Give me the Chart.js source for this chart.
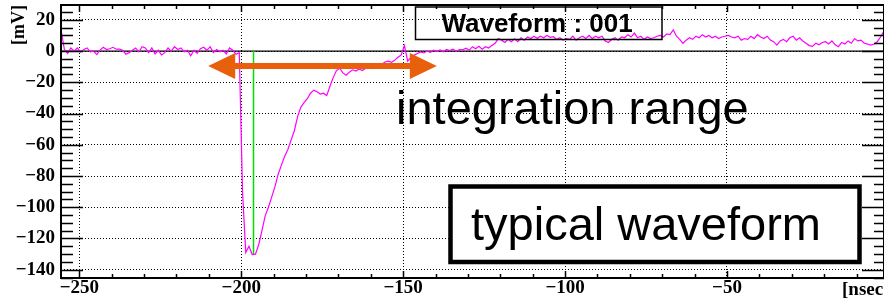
<!DOCTYPE html>
<html>
<head>
<meta charset="utf-8">
<script src="https://cdn.jsdelivr.net/npm/chart.js@4.4.0/dist/chart.umd.min.js"></script>
<style>
  html, body { margin: 0; padding: 0; background: #fff; }
</style>
</head>
<body>
<canvas id="grafico" width="884" height="302"></canvas>
<script>
// amostras do waveform, 1 ns entre elas
const tempoInicial = -255.6;
const passoNs = 1;
const tensaoMv = [
  13, 1, -1.5, 2, 0, 2, -0.5, 1, 2, -0.5,
  0, -2.3, 0.6, 2.4, 1, 1.5, 2.4, 1.2, 1.2, 0.5,
  -2, -1, 0.5, 2, -0.5, 2.8, 2, -1, 2, -1.8,
  0.5, -2.5, -1, 2, 0, 2.8, 1, 2, -0.5, 0.5,
  -3, 0.5, -1.5, 1.5, 2.4, 0.5, 2.8, -1, 1, -0.5,
  0.5, -1.8, 2, 0.5, -2, -1, -90, -129, -125, -130.3,
  -130, -124, -115, -105.5, -100, -93.5, -87, -79, -73, -67.5,
  -63, -57, -51, -42, -36, -33, -30.5, -27, -25, -26,
  -27.5, -27, -28.5, -22.5, -17, -12.5, -11, -14, -15.5, -13.5,
  -12, -12.8, -11.5, -12.5, -11, -10.5, -11.2, -9.5, -8, -8.5,
  -7, -6.5, -7.2, -5.8, -4, -2.5, 3.5, -6.5, -4, -2.6,
  -1.5, -0.5, -1.2, 0, -0.8, 0.5, -0.3, 0.8, -0.5, 1,
  0.3, 1.2, -0.2, 1, 0.8, 1.8, 0.5, 2.8, 1.5, 3,
  1.2, 2.8, 2, 3.5, 5, 8, 7, 5.5, 7.5, 6,
  7.8, 6, 8.5, 7, 9, 8, 9.5, 8.2, 9.5, 8.5,
  10, 8.8, 9.2, 7.5, 8.5, 7, 8, 7.5, 9.5, 7,
  8.5, 9.5, 8, 10, 8, 9.5, 8.5, 9.5, 6.5, 5.5,
  7.5, 8.5, 7, 9, 8.5, 10.5, 9, 11.5, 8.5, 9.5,
  7.5, 9, 8, 8.5, 9.5, 10, 9, 11, 10.5, 13.5,
  9.5, 7.5, 5, 7, 8.5, 7.5, 9.5, 8.5, 10.5, 9,
  10, 8.5, 9.5, 8, 9, 9.5, 10, 9, 8.5, 9.5,
  7, 8, 7.5, 9.5, 8, 10.5, 9, 8, 9.5, 7,
  6, 3.8, 6.5, 7.5, 6, 8.5, 9.5, 7, 8.5, 6.5,
  5, 3.5, 3, 5, 4, 5.5, 6, 4.5, 6.5, 4,
  2.8, 5.5, 4.5, 6.5, 5, 8, 6.5, 7, 5, 4.5,
  3.8, 4.5, 6, 9, 12.5
];

// linha verde no pico
const picoTempo = [-196.2, -196.2];
const picoTensao = [0, -130];

// faixa de integracao (seta laranja), em ns e mV
const faixaTempo = [-210.2, -139.6];
const faixaTensao = -9.6;

const xLimites = [-255.65, -1.52];
const yLimites = [-145.3, 29.5];
const xTicks = [-250, -200, -150, -100, -50];
const yTicks = [-140, -120, -100, -80, -60, -40, -20, 0, 20];

const fonteEixo = { family: '"Liberation Serif", "Times New Roman", serif', size: 19, weight: 'bold', lineHeight: 1 };
const menos = v => String(v).replace('-', '\u2212');

const molduraPlugin = {
  id: 'moldura',
  afterDatasetsDraw(chart) {
    const { ctx, chartArea: a, scales: { x, y } } = chart;
    ctx.save();
    ctx.strokeStyle = '#000';
    ctx.lineWidth = 1.5;
    ctx.beginPath();
    for (let v = -145; v <= 25; v += 5) {
      const py = Math.round(y.getPixelForValue(v)) + 0.5;
      const maior = v % 20 === 0;
      ctx.moveTo(a.left, py);
      ctx.lineTo(a.left + (maior ? 22 : 12), py);
      ctx.moveTo(a.right, py);
      ctx.lineTo(a.right - (maior ? 22 : 10), py);
    }
    for (let v = -250; v <= -10; v += 10) {
      const px = Math.round(x.getPixelForValue(v)) + 0.5;
      const t = v % 50 === 0 ? 7 : 4;
      ctx.moveTo(px, a.bottom);
      ctx.lineTo(px, a.bottom - t);
      ctx.moveTo(px, a.top);
      ctx.lineTo(px, a.top + t);
    }
    ctx.stroke();
    ctx.lineWidth = 2;
    ctx.strokeRect(a.left, a.top, a.right - a.left, a.bottom - a.top);
    ctx.restore();
  }
};

function desenharSeta(ctx, x1, x2, yc) {
  const cab = 27, meia = 13, haste = 3;
  ctx.beginPath();
  ctx.moveTo(x1, yc);
  ctx.lineTo(x1 + cab, yc - meia);
  ctx.lineTo(x1 + cab, yc - haste);
  ctx.lineTo(x2 - cab, yc - haste);
  ctx.lineTo(x2 - cab, yc - meia);
  ctx.lineTo(x2, yc);
  ctx.lineTo(x2 - cab, yc + meia);
  ctx.lineTo(x2 - cab, yc + haste);
  ctx.lineTo(x1 + cab, yc + haste);
  ctx.lineTo(x1 + cab, yc + meia);
  ctx.closePath();
  ctx.fill();
}

const anotacoesPlugin = {
  id: 'anotacoes',
  afterDraw(chart) {
    const { ctx, scales: { x, y } } = chart;
    ctx.save();
    ctx.textBaseline = 'alphabetic';

    // caixa do titulo
    ctx.strokeStyle = '#000';
    ctx.lineWidth = 1.5;
    ctx.strokeRect(415.5, 7, 246.5, 32.5);
    ctx.fillStyle = '#000';
    ctx.font = 'bold 26px "Liberation Sans", Arial, sans-serif';
    ctx.fillText('Waveform : 001', 441.5, 31.5);

    // seta da faixa de integracao
    ctx.fillStyle = '#e8600c';
    desenharSeta(ctx, x.getPixelForValue(faixaTempo[0]), x.getPixelForValue(faixaTempo[1]), y.getPixelForValue(faixaTensao));

    ctx.fillStyle = '#000';
    ctx.font = '47px "Liberation Sans", Arial, sans-serif';
    ctx.fillText('integration range', 396, 123.5);

    // caixa "typical waveform"
    ctx.fillStyle = '#fff';
    ctx.fillRect(450.5, 186.5, 409, 75.5);
    ctx.lineWidth = 4.5;
    ctx.strokeRect(450.5, 186.5, 409, 75.5);
    ctx.fillStyle = '#000';
    ctx.fillText('typical waveform', 471, 240);

    ctx.font = 'bold 19px "Liberation Serif", "Times New Roman", serif';
    ctx.fillText('[nsec]', 842, 295);
    ctx.restore();
  }
};

function criarGrafico() {
  const ctx = document.getElementById('grafico').getContext('2d');
  const pontos = tensaoMv.map((v, i) => ({ x: tempoInicial + i * passoNs, y: v }));

  return new Chart(ctx, {
    type: 'line',
    data: {
      datasets: [
        {
          data: picoTempo.map((t, i) => ({ x: t, y: picoTensao[i] })),
          borderColor: '#00e000',
          borderWidth: 1.5,
          pointRadius: 0,
          order: 0
        },
        {
          data: pontos,
          borderColor: '#ff00ff',
          borderWidth: 1.2,
          pointRadius: 0,
          tension: 0,
          order: 1
        },
        {
          data: xLimites.map(t => ({ x: t, y: 0 })),
          borderColor: '#000',
          borderWidth: 1.3,
          pointRadius: 0,
          order: 2
        }
      ]
    },
    options: {
      responsive: false,
      animation: false,
      devicePixelRatio: 1,
      layout: { padding: { top: 5, left: 0, right: 0, bottom: 0 } },
      plugins: { legend: { display: false }, tooltip: { enabled: false } },
      scales: {
        x: {
          type: 'linear',
          min: xLimites[0],
          max: xLimites[1],
          afterBuildTicks: s => { s.ticks = xTicks.map(v => ({ value: v })); },
          afterFit: s => { s.height = 24; s.paddingLeft = 0; s.paddingRight = 0; },
          grid: { color: '#000', lineWidth: 1, drawTicks: false },
          border: { display: false, dash: [1, 2] },
          ticks: { font: fonteEixo, color: '#000', padding: 1, maxRotation: 0, autoSkip: false, callback: menos }
        },
        y: {
          type: 'linear',
          min: yLimites[0],
          max: yLimites[1],
          afterBuildTicks: s => { s.ticks = yTicks.map(v => ({ value: v })); },
          afterFit: s => { s.width = 61; s.paddingTop = 0; s.paddingBottom = 0; },
          grid: { color: '#000', lineWidth: 1, drawTicks: false },
          border: { display: false, dash: [1, 2] },
          ticks: { font: fonteEixo, color: '#000', padding: 6, autoSkip: false, callback: menos },
          title: {
            display: true,
            text: '[mV]',
            align: 'end',
            color: '#000',
            font: { family: '"Liberation Serif", "Times New Roman", serif', size: 18, weight: 'bold' },
            padding: { top: 9, bottom: 0 }
          }
        }
      }
    },
    plugins: [molduraPlugin, anotacoesPlugin]
  });
}

window.onload = () => {
  criarGrafico();
};
</script>
</body>
</html>
